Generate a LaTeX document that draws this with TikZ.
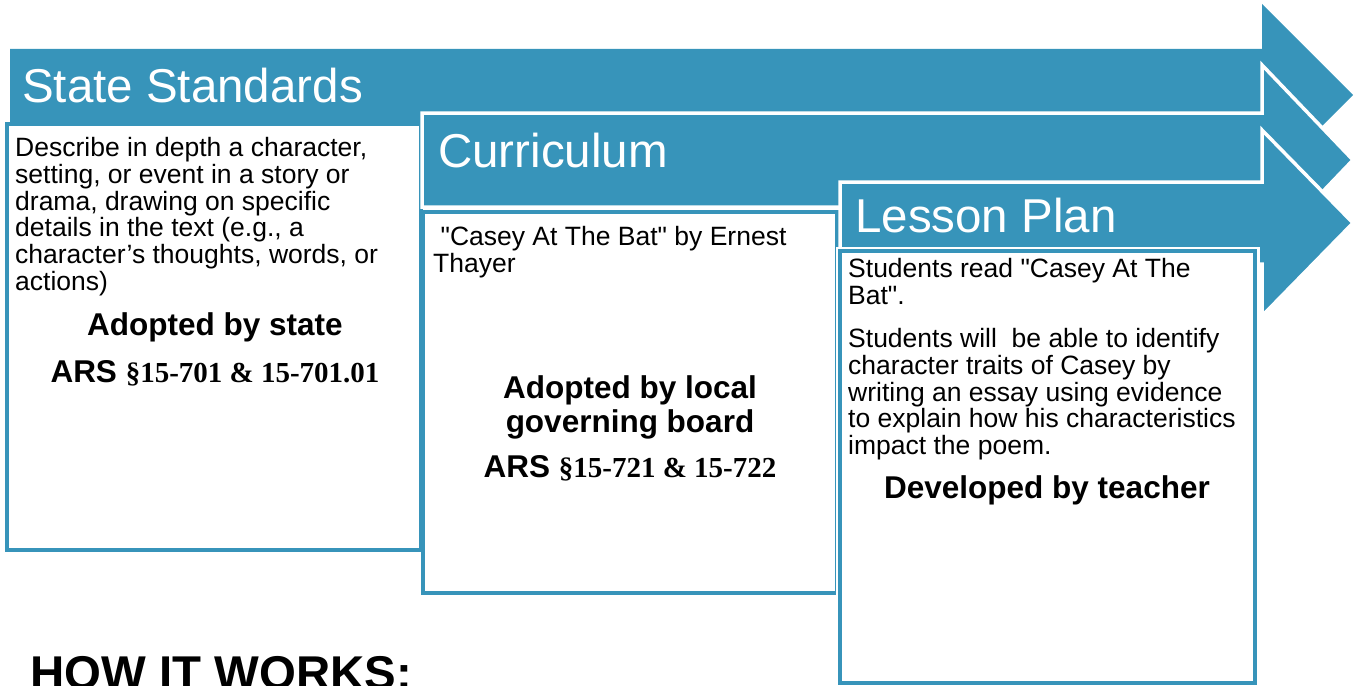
\documentclass[tikz,border=0pt]{standalone}
\usepackage{fontspec}
\setmainfont{Liberation Sans}[Ligatures=TeXOff]
\newfontfamily\seriffam{Liberation Serif}
\newcommand{\lawfont}{\fontsize{29}{34}\selectfont\seriffam\bfseries}
\definecolor{arrowblue}{HTML}{3794BA}
\begin{document}
\begin{tikzpicture}[x=1pt,y=-1pt,
  arrowplain/.style={fill=arrowblue},
  arrowhalo/.style={fill=arrowblue, draw=white, line width=3.5pt, line join=miter},
  boxhalo/.style={draw=white, line width=9pt},
  boxframe/.style={draw=arrowblue, line width=4pt, fill=white},
  titletext/.style={anchor=base west, inner sep=0pt, text=white, font=\fontsize{47.5}{57}\selectfont},
  bodytext/.style={anchor=north west, inner sep=0pt, align=left, font=\fontsize{26.5}{26.8}\selectfont},
  boldtext/.style={anchor=base, inner sep=0pt, align=center, font=\fontsize{31.5}{34}\selectfont\bfseries},
  arstext/.style={anchor=base, inner sep=0pt, font=\fontsize{31.5}{34}\selectfont\bfseries},
]
\useasboundingbox (0,0) rectangle (1356,685);

% arrow 1 and box 1
\fill[arrowplain] (10,49) -- (1262,49) -- (1262,4) -- (1353,95) -- (1262,186) -- (1262,141) -- (10,141) -- cycle;
\draw[boxframe] (7,124) rectangle (421,550);

% arrow 2 and box 2
\filldraw[arrowhalo] (422,113) -- (1262,113) -- (1262,65) -- (1353,160) -- (1262,255) -- (1262,207) -- (422,207) -- cycle;
\draw[boxframe] (423,212) rectangle (837,593);

% arrow 3 and box 3
\filldraw[arrowhalo] (840,182) -- (1262,182) -- (1262,130) -- (1353,223) -- (1262,316) -- (1262,264) -- (840,264) -- cycle;
\draw[boxhalo] (840,251) rectangle (1255,683);
\draw[boxframe] (840,251) rectangle (1255,683);

% titles
\node[titletext] (t1) at (22,102) {State Standards};
\node[titletext] (t2) at (438,167) {Curriculum};
\node[titletext] (t3) at (855,232) {Lesson Plan};

% box 1 texts
\node[bodytext] (b1) at (15,137) {Describe in depth a character,\\setting, or event in a story or\\drama, drawing on specific\\details in the text (e.g., a\\character’s thoughts, words, or\\actions)};
\node[boldtext] (a1) at (215,335) {Adopted by state};
\node[arstext] (r1) at (215,382) {ARS {\lawfont §15-701 \& 15-701.01}};

% box 2 texts
\node[bodytext] (b2) at (433,226) {\hspace*{7.4pt}"Casey At The Bat" by Ernest\\Thayer};
\node[boldtext] (a2) at (630,432) {Adopted by local\\governing board};
\node[arstext] (r2) at (630,477) {ARS {\lawfont §15-721 \& 15-722}};

% box 3 texts
\node[bodytext] (b3) at (848,258) {Students read "Casey At The\\Bat".};
\node[bodytext] (b4) at (848,328) {Students will~ be able to identify\\character traits of Casey by\\writing an essay using evidence\\to explain how his characteristics\\impact the poem.};
\node[boldtext] (a3) at (1047,498) {Developed by teacher};

% bottom heading
\node[anchor=base west, inner sep=0pt, font=\fontsize{47.4}{57}\selectfont\bfseries] (how) at (30,689) {HOW IT WORKS:};
\end{tikzpicture}
\end{document}
